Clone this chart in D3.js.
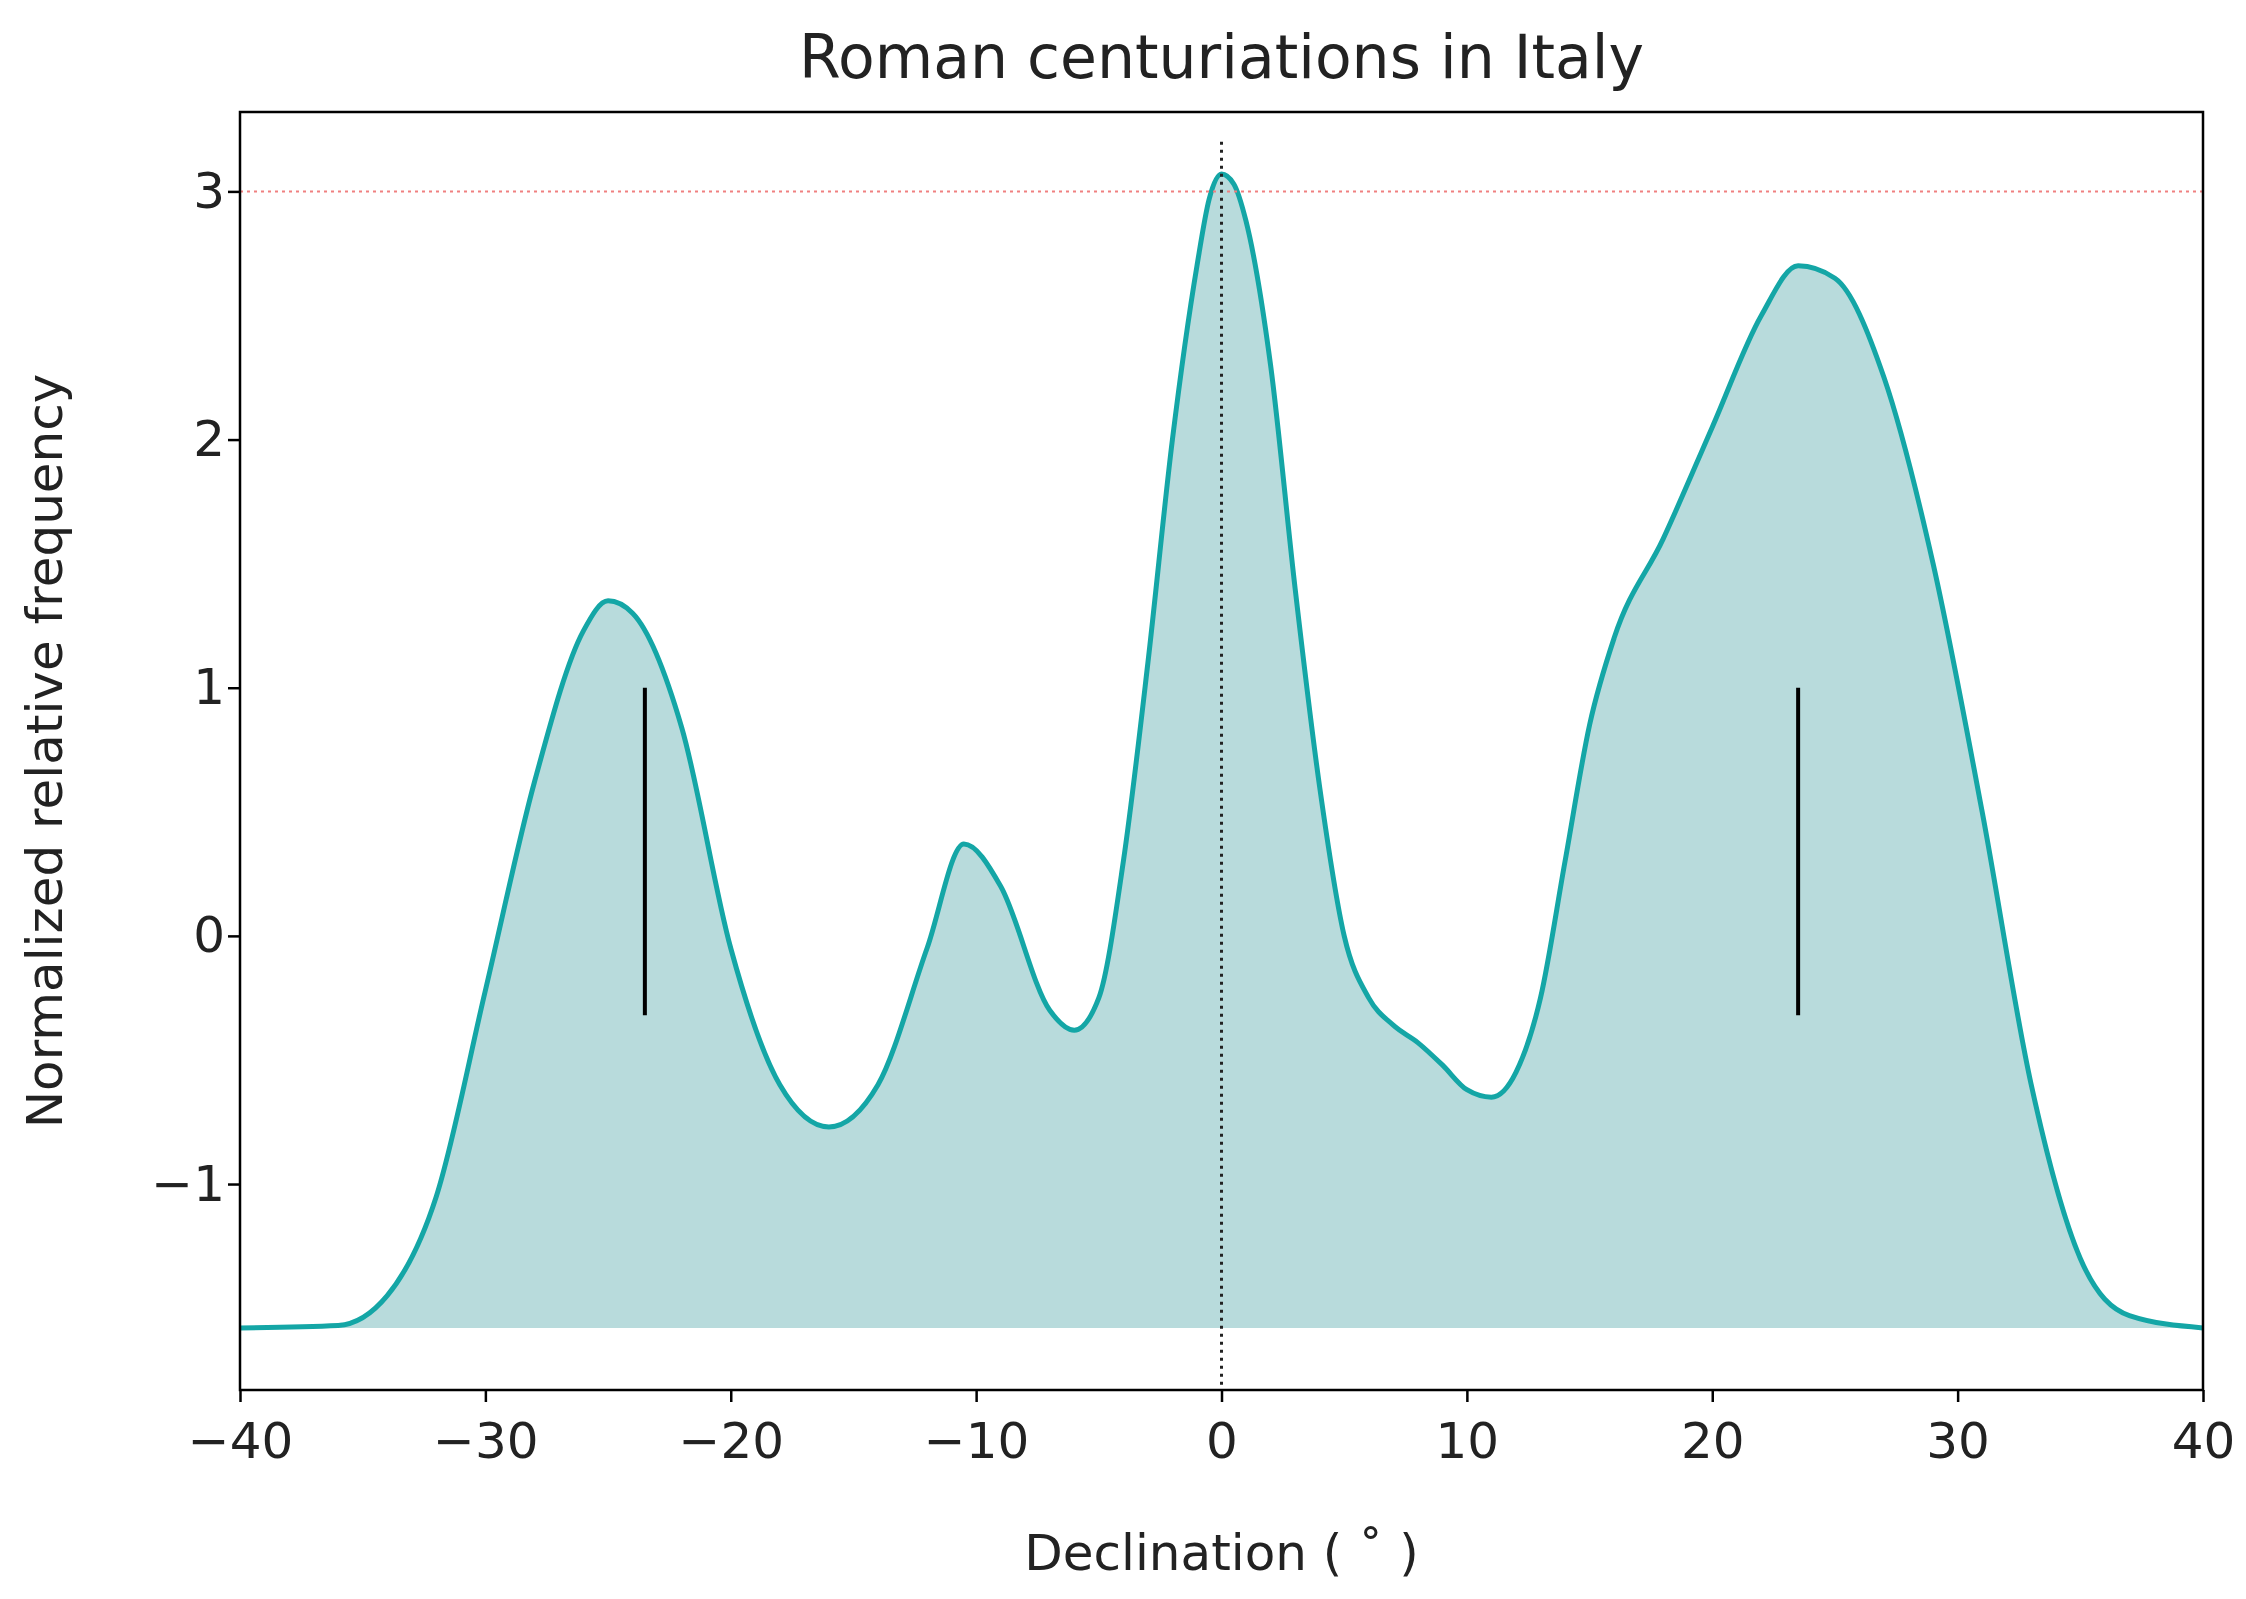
<!DOCTYPE html>
<html><head><meta charset="utf-8">
<script src="https://cdn.jsdelivr.net/npm/d3@7"></script>
<style>body{margin:0;background:#fff;font-family:"DejaVu Sans",sans-serif;}</style>
</head><body><svg id="chart" width="2246" height="1599"></svg>
<script>
const declination = [-40, -36, -34, -32, -30, -28, -26, -25, -24, -22, -20, -18, -16, -14, -12, -10.5, -9, -7, -6, -5, -4, -3, -2, -1, -0.5, 0, 0.5, 1, 2, 3, 4, 5, 6, 7, 8, 9, 10, 11, 12, 13, 14, 15, 16, 18, 20, 22, 23.5, 25, 27, 29, 31, 33, 35, 37, 40];
const frequency = [-1.58, -1.57, -1.45, -1.05, -0.22, 0.62, 1.23, 1.35, 1.3, 0.84, -0.05, -0.6, -0.77, -0.6, -0.05, 0.37, 0.2, -0.3, -0.38, -0.25, 0.3, 1.1, 2.0, 2.7, 2.97, 3.07, 3.03, 2.88, 2.3, 1.4, 0.6, 0.0, -0.25, -0.36, -0.43, -0.52, -0.62, -0.65, -0.55, -0.25, 0.3, 0.85, 1.2, 1.6, 2.05, 2.5, 2.7, 2.65, 2.25, 1.5, 0.5, -0.6, -1.3, -1.53, -1.58];
const markers = [-23.5, 23.5];
const xTicks = [-40, -30, -20, -10, 0, 10, 20, 30, 40];
const yTicks = [-1, 0, 1, 2, 3];

const svg = d3.select('#chart');
const m = {left: 240, right: 2203, top: 112, bottom: 1390};
const x = d3.scaleLinear().domain([-40, 40]).range([m.left, m.right]);
const y = d3.scaleLinear().domain([-1.83, 3.32]).range([m.bottom, m.top]);
const pts = declination.map((d, i) => [d, frequency[i]]);
const base = -1.58;

svg.append('path').datum(pts)
    .attr('fill', '#b8dbdc')
    .attr('d', d3.area().x(d => x(d[0])).y0(y(base)).y1(d => y(d[1])).curve(d3.curveMonotoneX));
svg.append('path').datum(pts)
    .attr('fill', 'none').attr('stroke', '#14a6a6').attr('stroke-width', 5)
    .attr('d', d3.line().x(d => x(d[0])).y(d => y(d[1])).curve(d3.curveMonotoneX));

svg.append('line').attr('x1', m.left).attr('x2', m.right).attr('y1', y(3)).attr('y2', y(3))
    .attr('stroke', '#f08080').attr('stroke-width', 2).attr('stroke-dasharray', '3,4');
svg.append('line').attr('x1', x(0)).attr('x2', x(0)).attr('y1', y(3.2)).attr('y2', m.bottom)
    .attr('stroke', '#222').attr('stroke-width', 3).attr('stroke-dasharray', '3,5');
svg.selectAll('.mark').data(markers).join('line')
    .attr('x1', d => x(d)).attr('x2', d => x(d)).attr('y1', y(1)).attr('y2', y(-0.32))
    .attr('stroke', '#000').attr('stroke-width', 4);

svg.append('rect').attr('x', m.left).attr('y', m.top).attr('width', m.right - m.left).attr('height', m.bottom - m.top)
    .attr('fill', 'none').attr('stroke', '#000').attr('stroke-width', 2.5);

const xa = svg.append('g').attr('transform', `translate(0,${m.bottom})`)
    .call(d3.axisBottom(x).tickValues(xTicks).tickSize(12).tickFormat(d => String(d).replace('-', '\u2212')));
const ya = svg.append('g').attr('transform', `translate(${m.left},0)`)
    .call(d3.axisLeft(y).tickValues(yTicks).tickSize(12).tickFormat(d => String(d).replace('-', '\u2212')));
[xa, ya].forEach(a => {
    a.select('.domain').remove();
    a.selectAll('line').attr('stroke-width', 2.5);
    a.selectAll('text').attr('font-size', 50).attr('fill', '#222').attr('font-family', 'DejaVu Sans');
});
xa.selectAll('text').attr('dy', '1.05em');

svg.append('text').attr('x', (m.left + m.right) / 2).attr('y', 78).attr('text-anchor', 'middle')
    .attr('font-size', 60).attr('fill', '#222').text('Roman centuriations in Italy');
svg.append('text').attr('x', (m.left + m.right) / 2).attr('y', 1570).attr('text-anchor', 'middle')
    .attr('font-size', 50).attr('fill', '#222').text('Declination ( \u02da )');
svg.append('text').attr('transform', `translate(62,${(m.top + m.bottom) / 2}) rotate(-90)`)
    .attr('text-anchor', 'middle').attr('font-size', 50).attr('fill', '#222').text('Normalized relative frequency');
</script></body></html>
